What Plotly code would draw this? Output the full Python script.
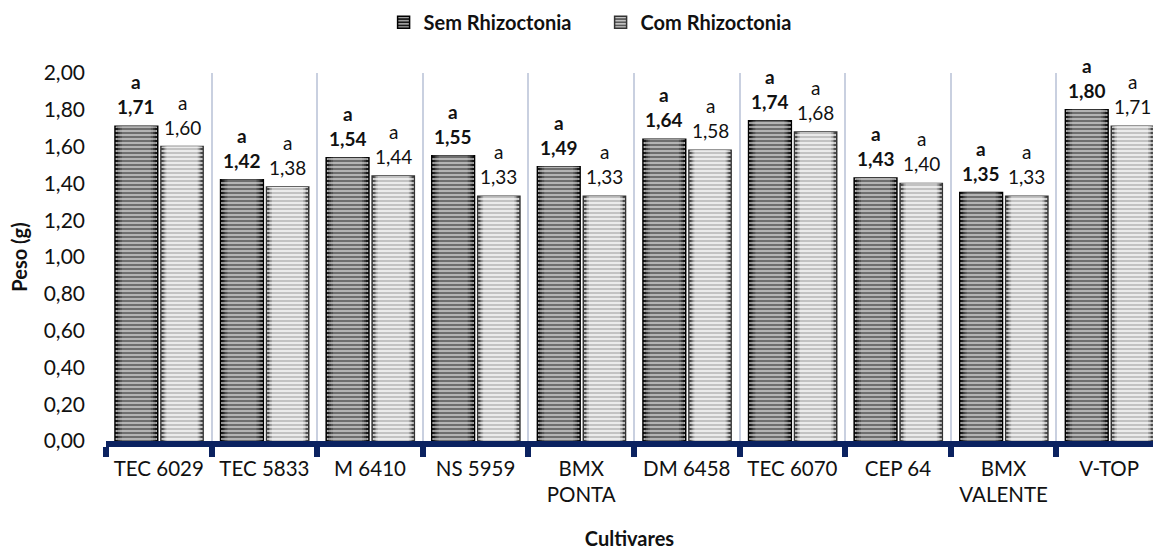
import plotly.graph_objects as go

# Dados: peso médio (g) por cultivar, com e sem Rhizoctonia
cultivares = ["TEC 6029", "TEC 5833", "M 6410", "NS 5959", "BMX<br>PONTA",
              "DM 6458", "TEC 6070", "CEP 64", "BMX<br>VALENTE", "V-TOP"]
sem_rhizoctonia = [1.71, 1.42, 1.54, 1.55, 1.49, 1.64, 1.74, 1.43, 1.35, 1.80]
com_rhizoctonia = [1.60, 1.38, 1.44, 1.33, 1.33, 1.58, 1.68, 1.40, 1.33, 1.71]
letras_sem = ["a"] * 10
letras_com = ["a"] * 10
y_ticks = [0, 0.2, 0.4, 0.6, 0.8, 1.0, 1.2, 1.4, 1.6, 1.8, 2.0]

FONT = "Lato"
NAVY = "#0b2260"
PX_PER_CAT = 105.6   # plot width / visible categories

fig = go.Figure()
annotations = []


def cylinder(name, values, letters, offset, width, outer, shades, edge,
             stripe, stripe_op, bold):
    """Bar series drawn as concentric layers to give a shaded, striped column."""
    fig.add_trace(go.Bar(
        x=cultivares, y=values, name=name, offset=offset, width=width,
        marker=dict(color=outer[0], line=dict(color=edge, width=1.5),
                    pattern=dict(shape="-", fgcolor=outer[1], fgopacity=0.9,
                                 size=4, solidity=0.45, fillmode="overlay")),
        showlegend=True, cliponaxis=False,
    ))
    for frac, col in shades:
        w = width * frac
        fig.add_trace(go.Bar(
            x=cultivares, y=values, offset=offset + (width - w) / 2, width=w,
            marker=dict(color=col, line=dict(width=0)),
            showlegend=False, hoverinfo="skip",
        ))
    w = width * 0.96
    fig.add_trace(go.Bar(
        x=cultivares, y=values, offset=offset + (width - w) / 2, width=w,
        marker=dict(color="rgba(0,0,0,0)", line=dict(width=0),
                    pattern=dict(shape="-", fgcolor=stripe, fgopacity=stripe_op,
                                 size=4, solidity=0.45)),
        showlegend=False, hoverinfo="skip",
    ))
    # letter + value above each column
    shift = (offset + width / 2) * PX_PER_CAT
    for cat, v, letter in zip(cultivares, values, letters):
        label = f"{letter}<br>{v:.2f}".replace(".", ",")
        annotations.append(dict(
            x=cat, y=v, xref="x", yref="y", text=label, showarrow=False,
            xanchor="center", yanchor="bottom", xshift=shift, yshift=6,
            font=dict(family=FONT, size=19, color="#111111",
                      weight="bold" if bold else "normal"),
        ))


cylinder("Sem Rhizoctonia", sem_rhizoctonia, letras_sem, -0.415, 0.405,
         ("#1a1a1a", "#bdbdbd"),
         [(0.93, "#1c1c1c"), (0.86, "#3a3a3a"), (0.78, "#555555"),
          (0.68, "#6e6e6e")],
         "#000000", "#e6e6e6", 0.65, True)
cylinder("Com Rhizoctonia", com_rhizoctonia, letras_com, 0.02, 0.40,
         ("#5a5a5a", "#dcdcdc"),
         [(0.94, "#4a4a4a"), (0.88, "#7a7a7a"), (0.82, "#a2a2a2"),
          (0.74, "#c2c2c2")],
         "#333333", "#ffffff", 0.75, False)

fig.update_layout(
    width=1153, height=551,
    margin=dict(l=106, r=0, t=73, b=110),
    barmode="overlay",
    separators=",.",
    plot_bgcolor="white", paper_bgcolor="white",
    font=dict(family=FONT, size=20, color="#111111"),
    legend=dict(orientation="h", xref="container", yref="container",
                x=0.3327, xanchor="left", y=0.995, yanchor="top",
                font=dict(family=FONT, size=20, color="#111111", weight="bold"),
                itemwidth=30, entrywidth=172, traceorder="normal"),
    annotations=annotations,
    showlegend=True,
)

fig.update_xaxes(
    type="category", range=[-0.5, 9.415],
    tickson="boundaries", showgrid=True, gridcolor="#c9d0e0", gridwidth=2,
    showline=True, linecolor=NAVY, linewidth=6,
    ticks="outside", tickcolor=NAVY, tickwidth=6, ticklen=10,
    ticklabelstandoff=4,
    tickfont=dict(family=FONT, size=20.5, color="#111111"),
    title=dict(text="Cultivares", font=dict(family=FONT, size=20, weight="bold"),
               standoff=29),
    fixedrange=True,
)
fig.update_yaxes(
    range=[0, 2.0], tickvals=y_ticks, tickformat=".2f",
    showgrid=False, zeroline=False, showline=False, ticks="",
    ticklabelstandoff=20,
    tickfont=dict(family=FONT, size=21, color="#111111"),
    title=dict(text="Peso (g)", font=dict(family=FONT, size=20, weight="bold"),
               standoff=10),
    fixedrange=True,
)

fig.write_html("out.html")
